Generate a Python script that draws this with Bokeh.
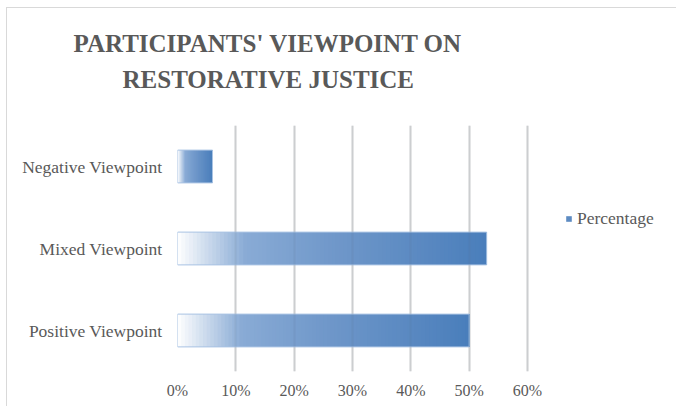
from bokeh.plotting import figure
from bokeh.models import (FactorRange, Range1d, NumeralTickFormatter, FixedTicker,
                          Legend, LegendItem, Title, Grid, ColumnDataSource)
from bokeh.embed import file_html
from bokeh.resources import INLINE

# ---- data ----
categories = ["Positive Viewpoint", "Mixed Viewpoint", "Negative Viewpoint"]
percentages = [0.50, 0.53, 0.06]
x_ticks = [0.0, 0.1, 0.2, 0.3, 0.4, 0.5, 0.6]
series_name = "Percentage"
title_lines = ["PARTICIPANTS' VIEWPOINT ON", "RESTORATIVE JUSTICE"]

# ---- styling helpers ----
FONT = "Liberation Serif"
TXT = "#595959"
stops = [(0.0, (255, 255, 255)), (0.22, (137, 171, 213)),
         (0.5, (112, 152, 202)), (1.0, (74, 126, 187))]


def grad(t):
    for (t0, c0), (t1, c1) in zip(stops[:-1], stops[1:]):
        if t <= t1:
            f = (t - t0) / (t1 - t0)
            r, g, b = (round(a + (bb - a) * f) for a, bb in zip(c0, c1))
            return "#%02x%02x%02x" % (r, g, b)
    return "#%02x%02x%02x" % stops[-1][1]


N = 80
ys, lefts, rights, colors = [], [], [], []
for c, v in zip(categories, percentages):
    for i in range(N):
        ys.append(c)
        lefts.append(v * i / N)
        rights.append(v)
        colors.append(grad((i + 0.5) / N))

# frame extends right to hold the legend; gridlines/ticks stop at 60%
p = figure(width=670, height=399, output_backend="svg", toolbar_location=None,
           y_range=FactorRange(factors=categories), x_range=Range1d(0, 0.84),
           min_border_left=170, min_border_right=10, min_border_top=117,
           min_border_bottom=36, title=None)
p.styles = {"border-top": "1px solid #d9d9d9", "border-left": "1px solid #d9d9d9",
            "margin-left": "6px", "margin-top": "7px"}
p.outline_line_color = None
p.background_fill_color = "white"
p.border_fill_color = "white"

src = ColumnDataSource(dict(y=ys, left=lefts, right=rights, color=colors))
bars = p.hbar(y="y", left="left", right="right", height=0.4, fill_color="color",
              line_color=None, source=src)
p.hbar(y=categories, left=0, right=percentages, height=0.4, fill_color=None,
       line_color="#a9c3e3", line_width=1)

# axes
p.xaxis.ticker = FixedTicker(ticks=x_ticks)
p.xaxis.formatter = NumeralTickFormatter(format="0%")
for ax in (p.xaxis, p.yaxis):
    ax.axis_line_color = None
    ax.major_tick_line_color = None
    ax.minor_tick_line_color = None
    ax.major_tick_out = 0
    ax.major_tick_in = 0
    ax.major_label_text_font = FONT
    ax.major_label_text_color = TXT
p.xaxis.major_label_text_font_size = "16px"
p.xaxis.major_label_standoff = 10
p.yaxis.major_label_text_font_size = "17.5px"
p.yaxis.major_label_standoff = 15

p.ygrid.grid_line_color = None
p.xgrid.ticker = FixedTicker(ticks=x_ticks)
p.xgrid.grid_line_color = "#dadada"
p.xgrid.grid_line_width = 2
over = Grid(dimension=0, ticker=FixedTicker(ticks=x_ticks), level="overlay",
            grid_line_color="#5a6b80", grid_line_alpha=0.1, grid_line_width=2)
p.add_layout(over)

# legend (inside the extended frame, right of the 60% line)
legend = Legend(items=[LegendItem(label=series_name, renderers=[bars], index=int(N * 0.75))],
                location=(388, 142), glyph_width=7, glyph_height=7,
                label_standoff=5, padding=0, margin=0, spacing=0,
                border_line_color=None, background_fill_alpha=0,
                label_text_font=FONT, label_text_font_size="17.5px",
                label_text_color=TXT, label_height=17)
p.add_layout(legend)

# titles (stacked upward from the frame)
spacer = Title(text=" ", text_font_size="25px", standoff=3)
t2 = Title(text=title_lines[1], align="left", offset=-55, text_font=FONT,
           text_font_style="bold", text_font_size="25px", text_color=TXT,
           standoff=0)
t1 = Title(text=title_lines[0], align="left", offset=-104, text_font=FONT,
           text_font_style="bold", text_font_size="25px", text_color=TXT,
           standoff=13)
p.add_layout(spacer, "above")
p.add_layout(t2, "above")
p.add_layout(t1, "above")

open("out.html", "w").write(file_html(p, INLINE))
